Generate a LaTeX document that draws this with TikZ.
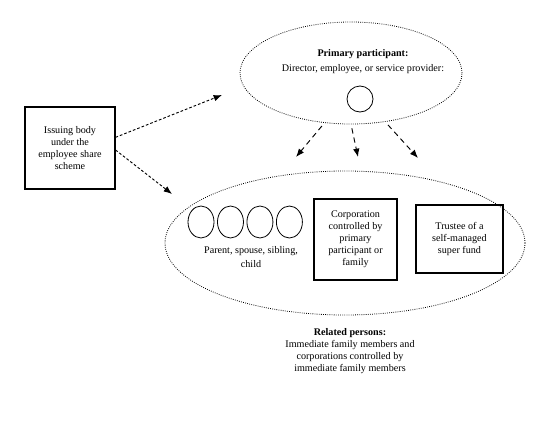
\documentclass[tikz,border=0pt]{standalone}
\usepackage{fontspec}
\setmainfont{Liberation Serif}
\usetikzlibrary{arrows.meta,positioning,shapes.geometric}
\tikzset{
  >={Latex[length=2.2mm,width=1.7mm]},
  txt/.style={font=\fontsize{7.6}{9}\selectfont, align=center, inner sep=0pt},
  box/.style={draw, line width=0.8pt, txt},
  groupell/.style={ellipse, draw, densely dotted, line width=0.6pt, inner sep=0pt},
  person/.style={ellipse, draw, line width=0.6pt, inner sep=0pt, minimum width=19.5pt, minimum height=24pt},
  linkarrow/.style={->, line width=0.7pt, dash pattern=on 2pt off 1.5pt},
  downarrow/.style={->, line width=0.7pt, dash pattern=on 4pt off 3pt},
}
\begin{document}
\begin{tikzpicture}[x=0.75pt, y=-0.75pt]
  \useasboundingbox (0,0) rectangle (548,421);

  % issuing body
  \node[box, minimum width=67.5pt, minimum height=61.5pt] (issue) at (70,148)
    {Issuing body\\under the\\employee share\\scheme};

  % primary participant
  \node[groupell, minimum width=166.5pt, minimum height=76.5pt] (primary) at (351,73) {};
  \node[txt] (primarytxt) at (363,62)
    {\textbf{Primary participant:}\\[2.2pt]Director, employee, or service provider:};
  \node[circle, draw, line width=0.6pt, minimum size=19.5pt, inner sep=0pt] (pp) at (360,99) {};

  % related persons
  \node[groupell, minimum width=270pt, minimum height=108pt] (related) at (345,243) {};
  \node[person] (par1) at (201,222) {};
  \node[person, right=2pt of par1] (par2) {};
  \node[person, right=2pt of par2] (par3) {};
  \node[person, right=2pt of par3] (par4) {};
  \node[txt] (partxt) at (251,257) {Parent, spouse, sibling,\\[1.5pt]child};
  \node[box, minimum width=62.25pt, minimum height=60.75pt] (corp) at (355.5,239.5)
    {Corporation\\controlled by\\primary\\participant or\\family};
  \node[box, minimum width=65.25pt, minimum height=51pt] (trustee) at (459.5,239)
    {Trustee of a\\self-managed\\super fund};
  \node[txt] (relatedtxt) at (350,351)
    {\textbf{Related persons:}\\Immediate family members and\\corporations controlled by\\immediate family members};

  % arrow ends
  \coordinate (tipA) at (222,95);
  \coordinate (tipB) at (172,194);
  \coordinate (tipL) at (296,157);
  \coordinate (tipM) at (358,157);
  \coordinate (tipR) at (418,158);

  \draw[linkarrow] ([yshift=8pt]issue.east) -- (tipA);
  \draw[linkarrow] ([yshift=-1.5pt]issue.east) -- (tipB);
  \draw[downarrow, shorten <=3pt] (primary.242) -- (tipL);
  \draw[downarrow, shorten <=3pt] (primary.270) -- (tipM);
  \draw[downarrow, shorten <=3pt] (primary.305) -- (tipR);
\end{tikzpicture}
\end{document}
